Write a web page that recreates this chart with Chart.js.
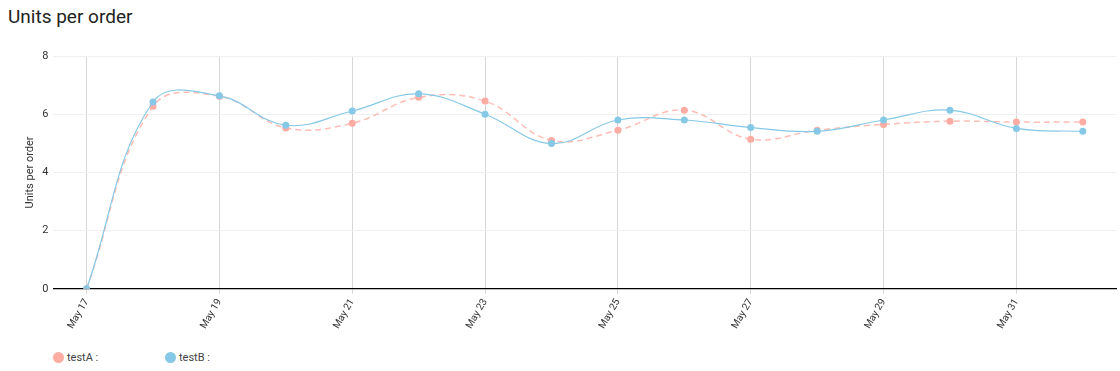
<!DOCTYPE html>
<html>
<head>
<meta charset="utf-8">
<script src="https://cdn.jsdelivr.net/npm/chart.js@4.4.1/dist/chart.umd.min.js"></script>
<style>
    body { margin: 0; background: #fff; font-family: Roboto, sans-serif; }
    .title { position: absolute; left: 8px; top: 5px; font-size: 19px; color: #222; font-weight: 400; }
    .chart-box { position: absolute; left: 0; top: 40px; width: 1120px; height: 294px; }
    .legend { position: absolute; left: 53px; top: 351px; font-size: 11px; color: #444; display: flex; }
    .legend span { display: flex; align-items: center; width: 112px; }
    .legend i { display: inline-block; width: 11px; height: 11px; border-radius: 50%; margin-right: 3px; }
</style>
</head>
<body>
<div class="title">Units per order</div>
<div class="chart-box"><canvas id="resultChart"></canvas></div>
<div class="legend" id="legend"></div>
<script>
const days = ['May 17', 'May 18', 'May 19', 'May 20', 'May 21', 'May 22', 'May 23', 'May 24',
    'May 25', 'May 26', 'May 27', 'May 28', 'May 29', 'May 30', 'May 31', 'Jun 1'];
const testA = [0, 6.27, 6.62, 5.53, 5.69, 6.58, 6.45, 5.10, 5.45, 6.14, 5.14, 5.45, 5.65, 5.76, 5.73, 5.73];
const testB = [0, 6.42, 6.63, 5.62, 6.11, 6.70, 6.00, 4.99, 5.80, 5.80, 5.54, 5.41, 5.80, 6.14, 5.51, 5.41];
const yTicks = [0, 2, 4, 6, 8];

const colorA = '#fcaca2';
const colorB = '#86c9e6';

// legend
const legend = document.getElementById('legend');
[['testA :', colorA], ['testB :', colorB]].forEach(item => {
    const s = document.createElement('span');
    s.innerHTML = `<i style="background:${item[1]}"></i>${item[0]}`;
    legend.appendChild(s);
});

const ctx = document.getElementById('resultChart').getContext('2d');
new Chart(ctx, {
    type: 'line',
    data: {
        labels: days,
        datasets: [{
            label: 'testA',
            data: testA,
            order: 1,
            borderColor: 'rgba(252, 172, 162, 0.8)',
            backgroundColor: colorA,
            borderWidth: 1.5,
            borderDash: [6, 4],
            pointRadius: 3.5,
            pointBorderWidth: 0,
            tension: 0.4,
            fill: false
        }, {
            label: 'testB',
            data: testB,
            order: 0,
            borderColor: colorB,
            backgroundColor: colorB,
            borderWidth: 1.2,
            pointRadius: 3.5,
            pointBorderWidth: 0,
            tension: 0.4,
            fill: false
        }]
    },
    options: {
        responsive: true,
        maintainAspectRatio: false,
        animation: false,
        layout: { padding: { top: 16, right: 0, left: 24 } },
        plugins: {
            legend: { display: false },
            tooltip: { enabled: false }
        },
        scales: {
            x: {
                offset: true,
                grid: {
                    offset: false,
                    color: c => (c.index % 2 === 0 ? '#d6d6d6' : 'transparent'),
                    drawTicks: true,
                    tickLength: 5
                },
                border: { color: '#000', width: 1.3 },
                ticks: {
                    autoSkip: false,
                    minRotation: 60,
                    maxRotation: 60,
                    color: '#333',
                    font: { family: 'Roboto', size: 10 },
                    callback: (v, i) => (i % 2 === 0 && i < 15 ? days[i] : '')
                }
            },
            y: {
                min: 0,
                max: 8,
                afterBuildTicks: axis => { axis.ticks = yTicks.map(v => ({ value: v })); },
                grid: { color: '#f0f0f0', drawTicks: false },
                border: { display: false },
                ticks: { color: '#333', padding: 5, font: { family: 'Roboto', size: 11 } },
                title: {
                    display: true,
                    text: 'Units per order',
                    color: '#333',
                    padding: 0,
                    font: { family: 'Roboto', size: 11 }
                }
            }
        }
    }
});
</script>
</body>
</html>
